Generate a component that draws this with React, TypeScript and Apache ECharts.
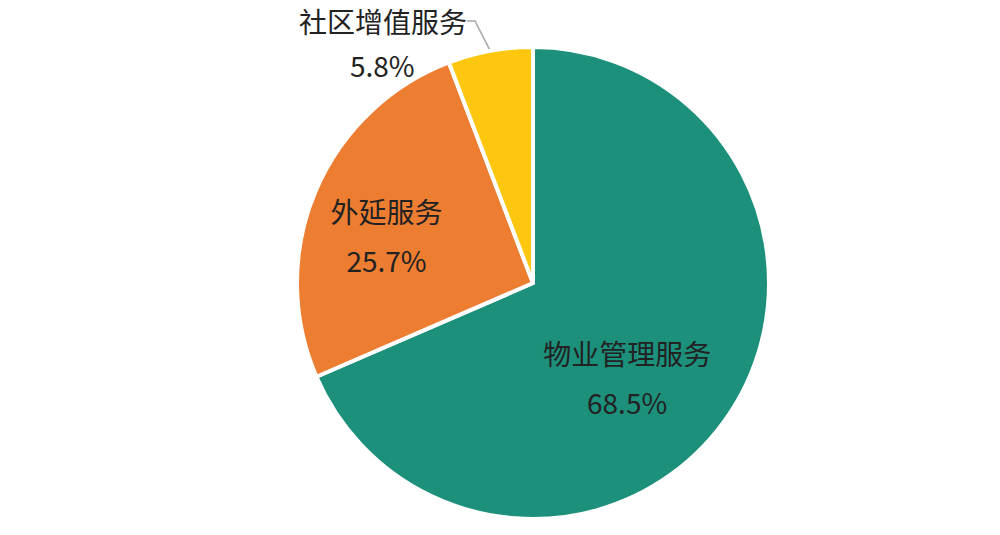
import { useEffect, useRef } from 'react';
import * as echarts from 'echarts';

const categories = ['物业管理服务', '外延服务', '社区增值服务'];
const shares = [68.5, 25.7, 5.8];
const colors = ['#1C907B', '#ED7D31', '#FDC70F'];

const FONT = 'Noto Sans CJK SC';

export default function App() {
  const chartRef = useRef<HTMLDivElement>(null);

  useEffect(() => {
    document.body.style.margin = '0';
    if (!chartRef.current) return;
    const chart = echarts.init(chartRef.current, null, { renderer: 'svg' });

    const option: echarts.EChartsOption = {
      animation: false,
      backgroundColor: '#ffffff',
      // percentage under the outside label (kept apart so the leader line meets the name)
      graphic: [
        {
          type: 'text',
          left: 383 - 33,
          top: 68 - 17,
          style: {
            text: `${shares[2].toFixed(1)}%`,
            fill: '#222222',
            fontSize: 28,
            fontFamily: FONT,
          },
        },
      ],
      series: [
        {
          type: 'pie',
          center: [533, 283],
          radius: 236,
          startAngle: 90,
          clockwise: true,
          itemStyle: { borderColor: '#ffffff', borderWidth: 4 },
          label: {
            show: true,
            position: 'inside',
            formatter: (p: any) => `${p.name}\n${shares[p.dataIndex].toFixed(1)}%`,
            color: '#222222',
            fontSize: 28,
            lineHeight: 49,
            fontFamily: FONT,
          },
          labelLine: { show: false },
          labelLayout: (params: any) => {
            if (params.dataIndex === 0) return { dx: -7, dy: 28 };
            if (params.dataIndex === 1) return { dx: -35, dy: 0 };
            return { x: 383, y: 21, align: 'center', verticalAlign: 'middle' };
          },
          data: categories.map((name, i) => ({
            name,
            value: shares[i],
            itemStyle: { color: colors[i] },
            ...(i === 2
              ? {
                  label: { position: 'outside' as const, formatter: '{b}', lineHeight: 30 },
                  labelLine: {
                    show: true,
                    length: 10,
                    length2: 8,
                    smooth: false,
                    lineStyle: { color: '#A6A6A6', width: 1.5 },
                  },
                }
              : {}),
          })),
        },
      ],
    };

    chart.setOption(option);
    return () => {
      chart.dispose();
    };
  }, []);

  return <div ref={chartRef} style={{ width: 1000, height: 535 }} />;
}
